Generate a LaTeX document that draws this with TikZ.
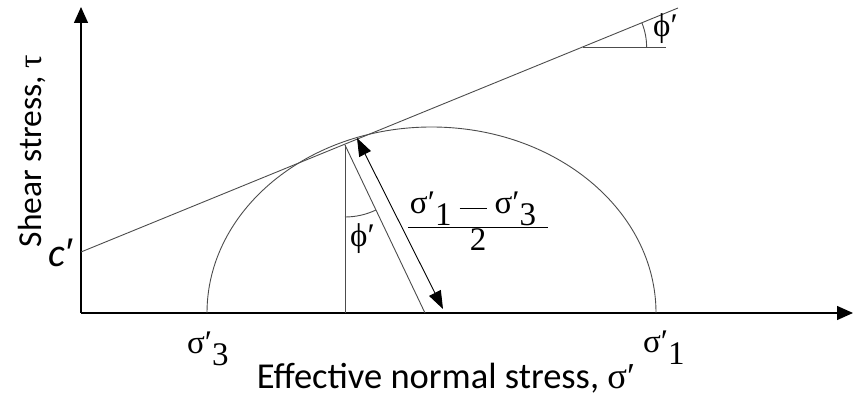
\documentclass[tikz,border=0pt]{standalone}
\usepackage{fontspec}
\setmainfont{Carlito}
\newfontfamily\gr{Liberation Serif}
\newfontfamily\lsans{Liberation Sans}
\newcommand\sgm[1]{{\gr σ′\raisebox{-0.36em}{#1}}}
\usetikzlibrary{arrows.meta,calc}
\begin{document}
\begin{tikzpicture}[x=1pt,y=1pt,
  axis/.style={line width=1.3pt,black},
  thin/.style={line width=0.9pt,black!70},
  lbl/.style={inner sep=0pt,font=\fontsize{33.5}{38}\selectfont},
  mlbl/.style={inner sep=0pt,font=\fontsize{33}{36}\selectfont}]
\useasboundingbox (0,0) rectangle (853,403);
% axes
\coordinate (O) at (81,90);
\coordinate (ytop) at (81,396);
\coordinate (xend) at (853,90);
\draw[axis,-{Triangle[length=16pt,width=14pt]}] (O) -- (ytop);
\draw[axis,-{Triangle[length=16pt,width=14pt]}] (O) -- (xend);
% envelope
\coordinate (C) at (81,151);
\coordinate (E) at (678,395);
\draw[thin] (C) -- (E);
% Mohr circle (ellipse)
\coordinate (S1) at (656,90);
\draw[thin] (S1) arc[start angle=0,end angle=180,x radius=224.5,y radius=186];
% tangent point, vertical and radius
\coordinate (T) at (345,258);
\coordinate (F) at (345,90);
\coordinate (R) at (425,90);
\draw[thin] (T) -- (F);
\draw[thin] (T) -- (R);
\draw[thin] ($(T)+(-90:72)$) arc[start angle=-90,end angle=-64.5,radius=72];
% double arrow
\coordinate (A1) at (357,265);
\coordinate (A2) at (443,94);
\draw[line width=0.9pt,black,{Triangle[length=18pt,width=13pt]}-{Triangle[length=18pt,width=13pt]}] (A1) -- (A2);
% top-right angle
\coordinate (P) at (582.6,356);
\coordinate (Q) at (666,356);
\draw[thin] (P) -- (Q);
\draw[thin] ($(P)+(64,0)$) arc[start angle=0,end angle=22.2,radius=64];
% labels
\node[lbl,rotate=90] (ylab) at (32,252) {Shear stress, {\gr τ}};
\node[lbl,font=\fontsize{36.5}{40}\selectfont] (xlab) at (446,25) {Effective normal stress, {\gr σ′}};
\node[inner sep=0pt,anchor=base west,font=\fontsize{40}{44}\selectfont\itshape] (cl) at (48,136) {c{\lsans\itshape ′}};
\node[mlbl,anchor=base west] (s3) at (187,49) {\sgm{3}};
\node[mlbl,anchor=base west] (s1) at (643,50) {\sgm{1}};
\node[mlbl,anchor=base west] (phi1) at (350,156) {{\gr ϕ′}};
\node[mlbl,anchor=base west] (phi2) at (653,366) {{\gr ϕ′}};
\node[mlbl] (frac) at (478,182) {$\displaystyle\frac{\mbox{\hspace{2pt}\sgm{1}\hspace{8pt}\raisebox{0.12em}{\rule{27pt}{1pt}}\hspace{8pt}\sgm{3}\hspace{12pt}}}{\mbox{\gr 2}}$};
\end{tikzpicture}
\end{document}
